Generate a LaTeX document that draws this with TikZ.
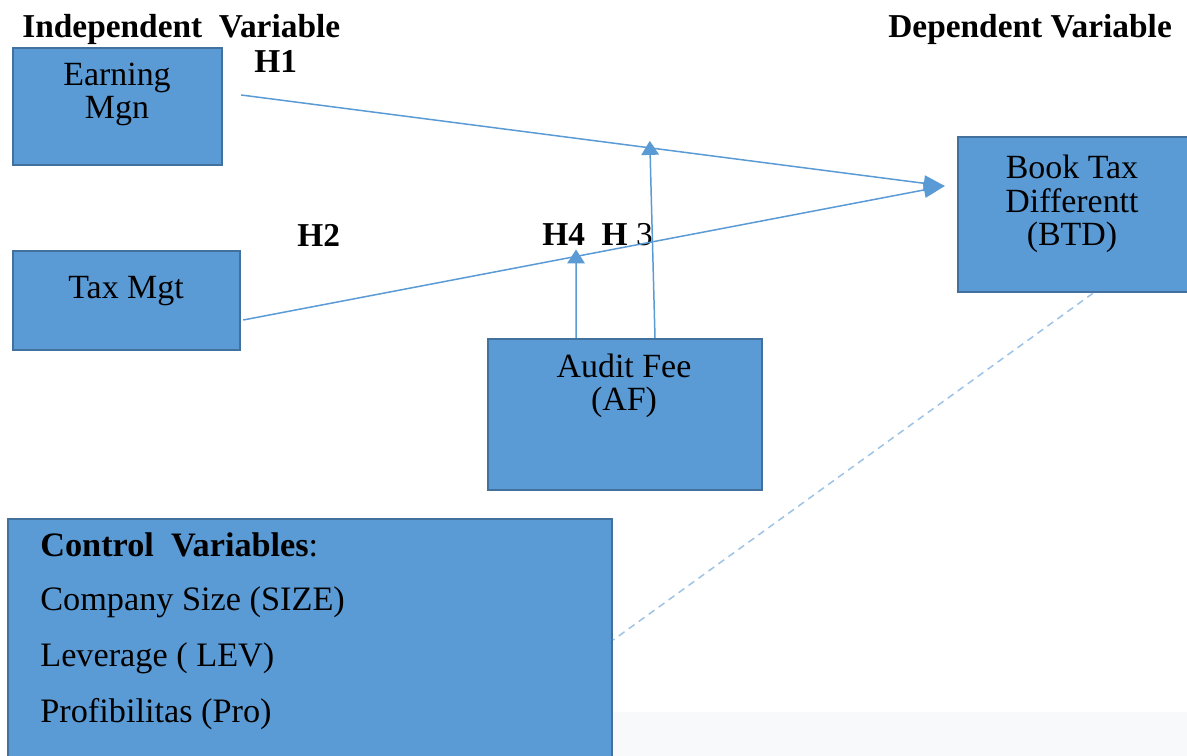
\documentclass[tikz,border=0pt]{standalone}
\usepackage{fontspec}
\setmainfont{Liberation Serif}
\usetikzlibrary{arrows.meta,calc}
\definecolor{boxblue}{HTML}{5B9BD5}
\definecolor{boxedge}{HTML}{41719C}
\definecolor{linkblue}{HTML}{5B9BD5}
\definecolor{dashblue}{HTML}{9DC3E6}
\definecolor{paleback}{HTML}{F7F9FB}
\tikzset{
  varbox/.style={draw=boxedge, line width=1.4pt, fill=boxblue, inner sep=0pt},
  boxtext/.style={font=\fontsize{19.3}{19.3}\selectfont, align=center, inner sep=0pt},
  listtext/.style={font=\fontsize{19.5}{19}\selectfont, inner sep=0pt, anchor=base west},
  headtext/.style={font=\fontsize{19}{19}\selectfont\bfseries, inner sep=0pt, anchor=base west},
  link/.style={draw=linkblue, line width=0.85pt},
  linktip/.style={-{Triangle[length=12pt,width=9pt]}, fill=linkblue},
  uptip/.style={-{Triangle[length=8pt,width=10pt]}, fill=linkblue},
}
\begin{document}
\begin{tikzpicture}[x=0.02cm, y=-0.02cm]
    \clip (0,0) rectangle (1187,756);
    \fill[white] (0,0) rectangle (1187,756);
    \fill[paleback] (612,712) rectangle (1187,756);
    % variable boxes
    \node[varbox, minimum width=4.18cm, minimum height=2.34cm] (em) at (117.5,106.5) {};
    \node[varbox, minimum width=4.54cm, minimum height=1.98cm] (tax) at (126.5,300.5) {};
    \node[varbox, minimum width=5.48cm, minimum height=3.02cm] (af) at (625,414.5) {};
    \node[varbox, minimum width=4.84cm, minimum height=3.1cm] (btd) at (1079,214.5) {};
    \node[varbox, minimum width=12.08cm, minimum height=5.02cm] (ctrl) at (310,644.5) {};
    % box texts (base = last line)
    \node[boxtext, anchor=base] (emtext) at (117,119) {Earning\\Mgn};
    \node[boxtext, anchor=base] (taxtext) at (126,299) {Tax Mgt};
    \node[boxtext, anchor=base] (aftext) at (624,411) {Audit Fee\\(AF)};
    \node[boxtext, anchor=base] (btdtext) at (1072,246) {Book Tax\\Differentt\\(BTD)};
    \node[listtext] (ctrlhead) at (40,557) {\textbf{Control~~Variables}:};
    \node[listtext] (size) at (40,611) {Company Size (SIZE)};
    \node[listtext] (lev) at (40,666) {Leverage ( LEV)};
    \node[listtext] (pro) at (40,723) {Profibilitas (Pro)};
    % headings and hypotheses
    \node[headtext] (indep) at (22,38) {Independent~~Variable};
    \node[headtext] (dep) at (888,38) {Dependent Variable};
    \node[headtext] (h1) at (254,73) {H1};
    \node[headtext] (h2) at (297,247) {H2};
    \node[headtext] (h43) at (542,246) {H4~~H\mdseries~3};
    % connectors
    \coordinate (emout) at ($(em.east)+(18,-11.5)$);
    \coordinate (taxout) at ($(tax.east)+(2,19.5)$);
    \coordinate (btdin) at ($(btd.west)+(-12,-28.5)$);
    \draw[link, linktip] (emout) -- (btdin);
    \draw[link, linktip] (taxout) -- (btdin);
    \draw[link, uptip] ($(af.north)+(30,0)$) -- ($(emout)!0.5807!(btdin)+(0,-7)$);
    \draw[link, uptip] ($(af.north)+(-49,0)$) -- ($(taxout)!0.4744!(btdin)+(0,-7)$);
    \draw[dashblue, line width=0.85pt, dash pattern=on 4pt off 3pt] ($(btd.south)+(14,0)$) -- ($(ctrl.east)+(0,-4.5)$);
\end{tikzpicture}
\end{document}
